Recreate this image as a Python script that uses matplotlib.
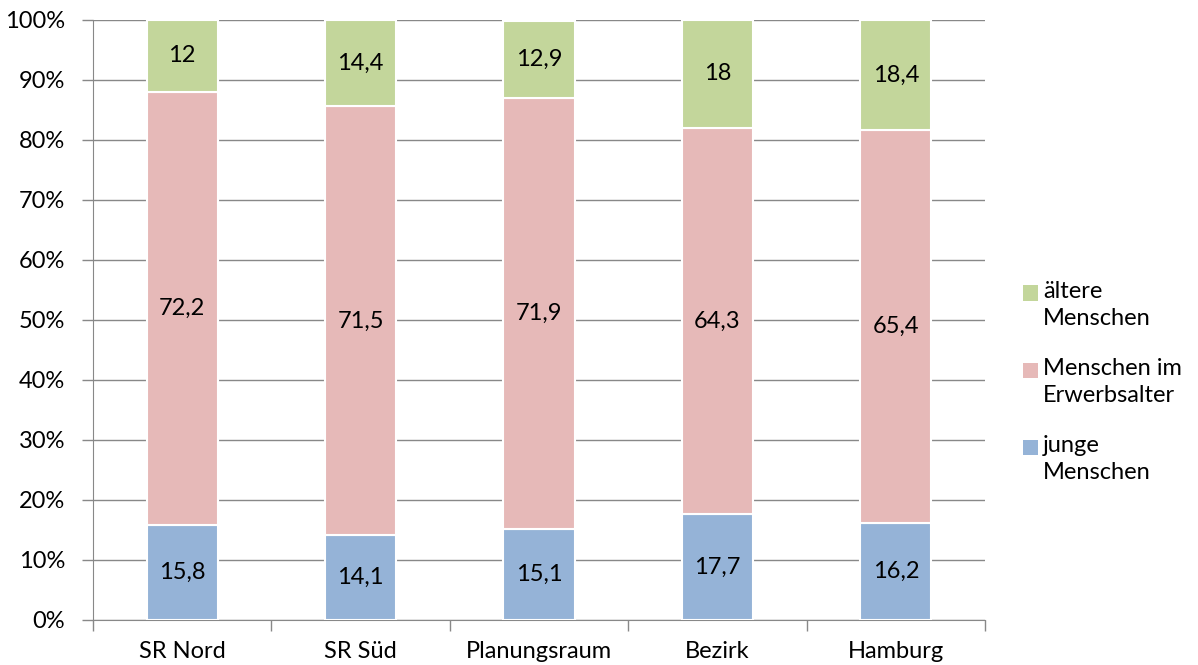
import matplotlib
matplotlib.use("Agg")
import matplotlib.pyplot as plt
from matplotlib.patches import Rectangle
import numpy as np

categories = ["SR Nord", "SR Süd", "Planungsraum", "Bezirk", "Hamburg"]
junge = [15.8, 14.1, 15.1, 17.7, 16.2]
erwerb = [72.2, 71.5, 71.9, 64.3, 65.4]
aeltere = [12, 14.4, 12.9, 18, 18.4]
labels_series = ["junge\nMenschen", "Menschen im\nErwerbsalter", "ältere\nMenschen"]
colors = ["#95B3D7", "#E6B9B8", "#C3D69B"]

plt.rcParams['font.family'] = ['Lato', 'DejaVu Sans']
FS = 17

fig = plt.figure(figsize=(11.98, 6.65), dpi=100)
ax = fig.add_axes([93/1198, 45/665, (985-93)/1198, 600/665])

x = np.arange(len(categories))
w = 0.40
series = [junge, erwerb, aeltere]
bottom = np.zeros(len(categories))
for vals, col, lab in zip(series, colors, labels_series):
    vals = np.array(vals, dtype=float)
    ax.bar(x, vals, w, bottom=bottom, color=col, edgecolor="white", linewidth=1.5, label=lab, zorder=3)
    for xi, v, bt in zip(x, vals, bottom):
        s = ("%g" % v).replace(".", ",")
        ax.text(xi, bt + v/2, s, ha="center", va="center", fontsize=FS, color="black", zorder=4)
    bottom += vals

ax.set_xlim(-0.5, len(categories) - 0.5)
ax.set_ylim(0, 100)
ax.set_yticks(np.arange(0, 101, 10))
ax.set_yticklabels([f"{v}%" for v in range(0, 101, 10)], fontsize=FS)
ax.yaxis.grid(True, color="#888888", linewidth=1, zorder=0)
ax.set_xticks(x)
ax.set_xticklabels(categories, fontsize=FS)
ax.tick_params(axis="x", length=0, pad=15)
ax.set_xticks(np.arange(-0.5, len(categories)), minor=True)
ax.tick_params(axis="x", which="minor", length=8, color="#888888", width=1)
ax.tick_params(axis="y", length=8, color="#888888", width=1, pad=12)
for s in ["top", "right"]:
    ax.spines[s].set_visible(False)
for s in ["left", "bottom"]:
    ax.spines[s].set_color("#888888")

# legend (manual, Excel style: marker aligned with first line)
W, H = 1198, 665
leg_y = [293, 370, 447]
for lab, col, yc in zip(labels_series[::-1], colors[::-1], leg_y):
    fig.patches.append(Rectangle(((1023)/W, (H - yc - 7.5)/H), 15/W, 15/H,
                                 transform=fig.transFigure, facecolor=col, edgecolor="none"))
    fig.text(1043/W, (H - yc + 12)/H, lab, fontsize=FS, va="top", ha="left", linespacing=1.35)

fig.savefig("out.png", dpi=100)
